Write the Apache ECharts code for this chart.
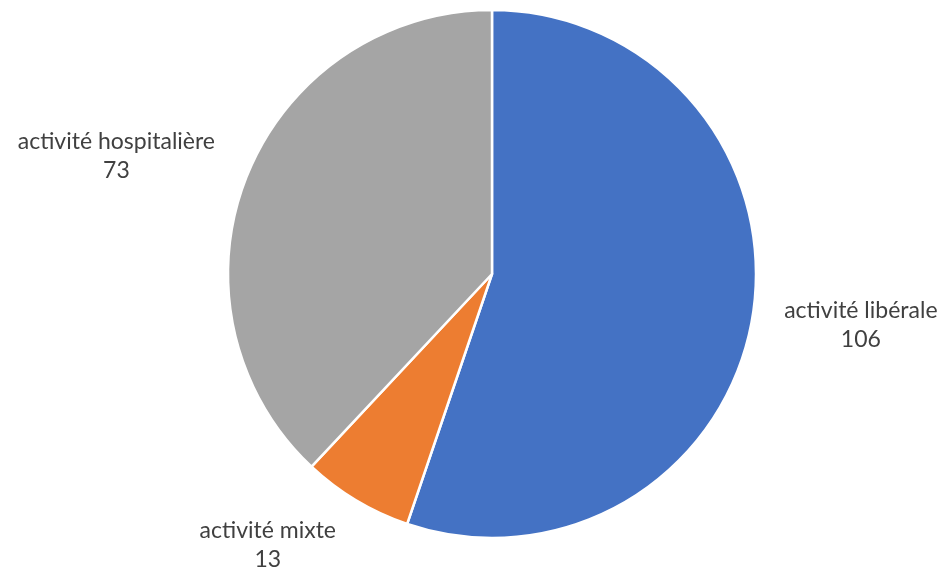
<!DOCTYPE html>
<html><head><meta charset="utf-8">
<script src="https://cdn.jsdelivr.net/npm/echarts@6/dist/echarts.min.js"></script>
<style>html,body{margin:0;padding:0;background:#fff}#c{width:944px;height:573px}</style>
</head><body><div id="c"></div>
<script>
const categories = ['activité libérale', 'activité mixte', 'activité hospitalière'];
const values = [106, 13, 73];
const colors = ['#4472C4', '#ED7D31', '#A5A5A5'];

// small nudges of the outside labels (Excel-style placement)
const labelNudge = [[-5, 4], [6, 26], [4, -13]];

const chart = echarts.init(document.getElementById('c'), null, {renderer: 'canvas'});
chart.setOption({
  backgroundColor: '#fff',
  animation: false,
  series: [{
    type: 'pie',
    center: [492, 274],
    radius: [0, 264],
    startAngle: 90,
    clockwise: true,
    avoidLabelOverlap: false,
    itemStyle: {borderColor: '#fff', borderWidth: 2.5},
    label: {
      show: true,
      position: 'outside',
      alignTo: 'none',
      formatter: '{b}\n{c}',
      fontFamily: 'Lato',
      fontSize: 23,
      lineHeight: 29,
      color: '#404040'
    },
    labelLine: {show: false, length: 22, length2: 10},
    labelLayout: function (p) {
      const n = labelNudge[p.dataIndex];
      return {
        x: p.labelRect.x + p.labelRect.width / 2 + n[0],
        y: p.labelRect.y + n[1],
        align: 'center',
        verticalAlign: 'top'
      };
    },
    data: categories.map((n, i) => ({name: n, value: values[i], itemStyle: {color: colors[i]}}))
  }]
});
</script></body></html>
